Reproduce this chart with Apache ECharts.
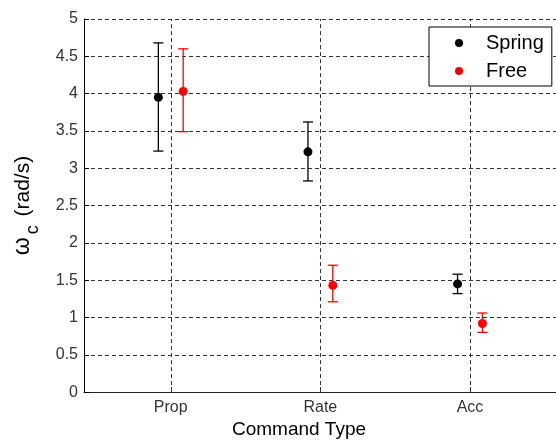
<!DOCTYPE html>
<html>
<head>
<meta charset="utf-8">
<style>
  html, body { margin: 0; padding: 0; background: #fff; }
  #chart { width: 556px; height: 444px; }
</style>
<script src="https://cdn.jsdelivr.net/npm/echarts@6/dist/echarts.min.js"></script>
</head>
<body>
<div id="chart"></div>
<script>
const categories = ["Prop", "Rate", "Acc"];
const springMean = [3.95, 3.22, 1.45];
const springLow = [3.23, 2.83, 1.32];
const springHigh = [4.68, 3.62, 1.58];
const freeMean = [4.03, 1.43, 0.92];
const freeLow = [3.49, 1.21, 0.80];
const freeHigh = [4.60, 1.70, 1.06];
const yTicks = [0, 0.5, 1, 1.5, 2, 2.5, 3, 3.5, 4, 4.5, 5];

const offset = 0.083;
const catPos = categories.map((c, i) => i + 1);

const chart = echarts.init(document.getElementById("chart"));

// error bar: vertical line + caps, x in axis units
const errorBar = (color) => (params, api) => {
  const x = api.value(0);
  const lo = api.coord([x, api.value(1)]);
  const hi = api.coord([x, api.value(2)]);
  const w = 5;
  const style = { stroke: color, lineWidth: 1.3 };
  return {
    type: "group",
    children: [
      { type: "line", shape: { x1: hi[0], y1: hi[1], x2: lo[0], y2: lo[1] }, style },
      { type: "line", shape: { x1: hi[0] - w, y1: hi[1], x2: hi[0] + w, y2: hi[1] }, style },
      { type: "line", shape: { x1: lo[0] - w, y1: lo[1], x2: lo[0] + w, y2: lo[1] }, style },
    ],
  };
};

const gridDash = { color: "#333", type: [4, 3], width: 1 };

const option = {
  animation: false,
  backgroundColor: "#fff",
  textStyle: { fontFamily: "Liberation Sans, Arial, sans-serif" },
  grid: { left: 84, top: 19, right: 0, bottom: 51 },
  legend: {
    orient: "vertical",
    left: 429,
    top: 27,
    data: [
      { name: "Spring", icon: "circle" },
      { name: "Free", icon: "circle" },
    ],
    itemWidth: 8,
    itemHeight: 8,
    itemGap: 8,
    padding: [6, 8, 5, 26],
    backgroundColor: "#fff",
    borderColor: "#000",
    borderWidth: 1,
    borderRadius: 0,
    textStyle: { fontSize: 20, color: "#000", padding: [0, 0, 0, 18] },
  },
  xAxis: {
    type: "value",
    min: 0.42,
    max: 3.575,
    name: "Command Type",
    nameLocation: "middle",
    nameGap: 18,
    nameTextStyle: { fontSize: 19, color: "#000", padding: [0, 42, 0, 0] },
    axisLine: { lineStyle: { color: "#222", width: 1 } },
    axisTick: { inside: true, length: 5, lineStyle: { color: "#222" }, customValues: catPos },
    axisLabel: {
      customValues: catPos,
      formatter: (v) => categories[Math.round(v) - 1] || "",
      fontSize: 16,
      color: "#333",
      margin: 7,
    },
    splitLine: { show: false },
  },
  yAxis: {
    type: "value",
    min: 0,
    max: 5,
    interval: 0.5,
    name: "{w|\u03c9}{sub|c} (rad/s)",
    nameLocation: "middle",
    nameRotate: 90,
    nameGap: 42,
    nameTextStyle: {
      fontSize: 21,
      color: "#000",
      rich: {
        w: { fontSize: 23 },
        sub: { fontSize: 18, padding: [20, 3, 0, 3] },
      },
    },
    axisLine: { show: true, lineStyle: { color: "#000", width: 1 } },
    axisTick: { inside: true, length: 5, lineStyle: { color: "#000" } },
    axisLabel: {
      fontSize: 16,
      color: "#333",
      margin: 6,
      formatter: (v) => String(yTicks.find((t) => Math.abs(t - v) < 1e-9) ?? v),
    },
    splitLine: { show: true, lineStyle: gridDash },
  },
  series: [
    {
      name: "SpringErr",
      type: "custom",
      renderItem: errorBar("#000"),
      data: catPos.map((p, i) => [p - offset, springLow[i], springHigh[i]]),
      encode: { x: 0, y: [1, 2] },
      silent: true,
      z: 3,
      markLine: {
        silent: true,
        symbol: "none",
        label: { show: false },
        lineStyle: gridDash,
        data: catPos.map((p) => ({ xAxis: p })),
        z: 1,
      },
    },
    {
      name: "FreeErr",
      type: "custom",
      renderItem: errorBar("#ff0000"),
      data: catPos.map((p, i) => [p + offset, freeLow[i], freeHigh[i]]),
      encode: { x: 0, y: [1, 2] },
      silent: true,
      z: 3,
    },
    {
      name: "Spring",
      type: "scatter",
      symbol: "circle",
      symbolSize: 9,
      itemStyle: { color: "#000", opacity: 1 },
      data: catPos.map((p, i) => [p - offset, springMean[i]]),
      z: 4,
    },
    {
      name: "Free",
      type: "scatter",
      symbol: "circle",
      symbolSize: 9,
      itemStyle: { color: "#ff0000", opacity: 1 },
      data: catPos.map((p, i) => [p + offset, freeMean[i]]),
      z: 4,
    },
  ],
};

chart.setOption(option);
</script>
</body>
</html>
